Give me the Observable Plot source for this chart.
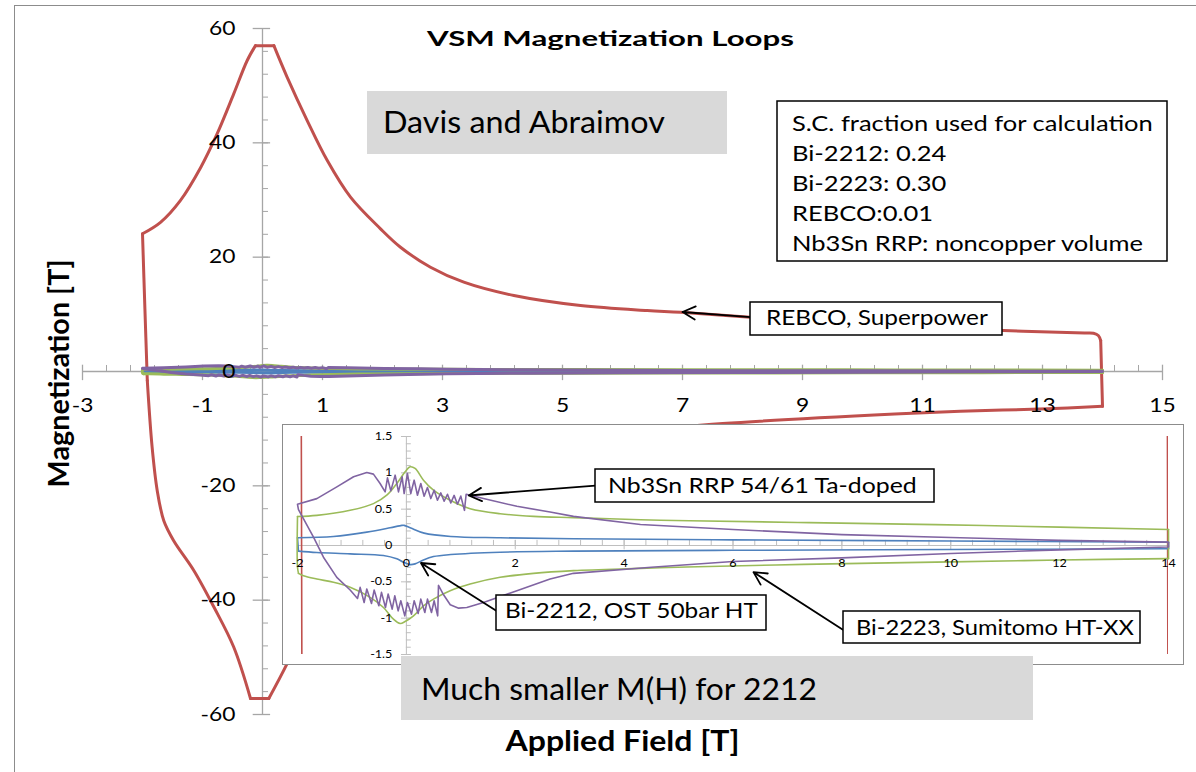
<!DOCTYPE html>
<html><head><meta charset="utf-8">
<script src="https://cdn.jsdelivr.net/npm/d3@7"></script>
<script src="https://cdn.jsdelivr.net/npm/@observablehq/plot@0.6"></script>
<style>
html,body{margin:0;padding:0;background:#fff;}
#wrap{position:relative;width:1196px;height:772px;overflow:hidden;background:#fff;font-family:Lato,sans-serif;}
#main{position:absolute;left:0;top:0;width:1196px;height:772px;}
#chartBorder{position:absolute;left:14px;top:5px;width:1400px;height:1000px;border-left:1.5px solid #8c8c8c;border-top:1.5px solid #8c8c8c;pointer-events:none;}
#inset{position:absolute;left:282px;top:424px;width:902px;height:241px;background:#fff;}
#insetPlot{position:absolute;left:0;top:0;width:902px;height:241px;}
#insetBorder{position:absolute;left:0;top:0;width:902px;height:241px;box-sizing:border-box;border:1.5px solid #8c8c8c;pointer-events:none;}
#overlay{position:absolute;left:0;top:0;pointer-events:none;}
</style></head>
<body>
<div id="wrap">
  <div id="main"></div>
  <div id="chartBorder"></div>
  <div id="inset"><div id="insetPlot"></div><div id="insetBorder"></div></div>
  <svg id="overlay" width="1196" height="772"></svg>
</div>
<script>
// ---------------- DATA (field H [T], magnetization M [T]) ----------------
const rebcoLoop = [
  [-2.0, 24.1], [-1.7, 26.1], [-1.37, 29.9], [-1.03, 35.7], [-0.755, 41.6], [-0.478, 48.6],
  [-0.255, 54.4], [-0.117, 57.0], [0.19, 57.0], [0.41, 51.5], [0.745, 43.9], [1.08, 36.9],
  [1.467, 30.5], [1.967, 24.96], [2.3, 21.74], [2.8, 18.24], [3.355, 15.62], [4.19, 13.29],
  [5.3, 11.54], [6.41, 10.67], [6.97, 10.37], [8.13, 9.5], [10.0, 8.2], [12.35, 7.17],
  [13.7, 6.75], [13.85, 6.7], [13.93, 6.3], [13.97, 5.4], [14.0, -6.1], [13.08, -6.53],
  [11.63, -6.95], [10.63, -7.4], [7.67, -9.1], [6.4, -10.3], [5.3, -11.3], [4.2, -13.0],
  [3.35, -15.3], [2.8, -17.9], [2.3, -21.3], [1.97, -24.4], [1.47, -30.0], [1.08, -36.4],
  [0.745, -43.4], [0.41, -51.1], [0.105, -57.2], [-0.2, -57.2], [-0.48, -48.2], [-0.81, -41.2],
  [-1.145, -34.8], [-1.48, -29.6], [-1.645, -26.1], [-1.755, -20.8], [-1.84, -13.2],
  [-1.92, -1.6], [-1.96, 11.0], [-2.0, 24.1]
];
const bi2223Loop = [
  [-2.0, 0.40], [-1.645, 0.415], [-1.033, 0.484], [-0.605, 0.576], [-0.36, 0.692], [-0.176, 0.853],
  [-0.023, 1.014], [0.069, 1.083], [0.16, 1.06], [0.314, 0.899], [0.498, 0.761], [0.804, 0.622],
  [1.171, 0.507], [1.722, 0.438], [2.335, 0.401], [3.07, 0.383], [4.3, 0.355], [5.2, 0.34],
  [7.4, 0.315], [10.6, 0.275], [14.0, 0.22], [14.0, -0.18], [12.0, -0.2], [10.0, -0.225],
  [7.3, -0.26], [5.15, -0.295], [4.3, -0.315], [3.07, -0.346], [2.335, -0.383], [1.722, -0.438],
  [1.171, -0.53], [0.804, -0.622], [0.498, -0.738], [0.314, -0.83], [0.131, -0.968], [-0.023, -1.046],
  [-0.115, -1.074], [-0.237, -1.014], [-0.421, -0.853], [-0.666, -0.714], [-1.033, -0.576],
  [-1.339, -0.507], [-1.645, -0.461], [-1.89, -0.415], [-1.982, -0.383], [-2.0, -0.3], [-2.0, 0.40]
];
const bi2212Loop = [
  [-2.0, 0.106], [-1.339, 0.124], [-0.727, 0.184], [-0.298, 0.244], [-0.084, 0.277], [-0.041, 0.277],
  [0.081, 0.24], [0.326, 0.17], [0.816, 0.124], [1.722, 0.106], [3.07, 0.092], [6.0, 0.078],
  [10.0, 0.062], [14.0, 0.045], [14.0, -0.045], [10.0, -0.055], [6.0, -0.066], [3.07, -0.078],
  [1.722, -0.092], [0.816, -0.124], [0.498, -0.152], [0.314, -0.198], [0.16, -0.253], [0.069, -0.263],
  [-0.053, -0.23], [-0.176, -0.184], [-0.421, -0.138], [-1.033, -0.115], [-1.645, -0.097],
  [-1.982, -0.078], [-2.0, 0.106]
];
const nb3snLoop = [
  [-2.0, 0.567], [-1.645, 0.645], [-1.277, 0.807], [-0.97, 0.946], [-0.727, 1.005], [-0.605, 0.982],
  [-0.483, 0.853], [-0.39, 0.738],
  [-0.347, 0.931], [-0.286, 0.752], [-0.206, 0.968], [-0.145, 0.738], [-0.078, 0.945], [-0.041, 0.715],
  [0.02, 0.99], [0.081, 0.715], [0.143, 0.899], [0.204, 0.692], [0.265, 0.853], [0.326, 0.678],
  [0.387, 0.798], [0.449, 0.646], [0.51, 0.761], [0.571, 0.623], [0.632, 0.724], [0.694, 0.609],
  [0.755, 0.705], [0.816, 0.585], [0.877, 0.69], [0.938, 0.567], [1.0, 0.68], [1.067, 0.484],
  [1.098, 0.705],
  [1.416, 0.646], [2.03, 0.539], [2.64, 0.461], [3.07, 0.401], [4.3, 0.29], [6.0, 0.22],
  [8.0, 0.15], [10.0, 0.11], [12.0, 0.07], [14.0, 0.046],
  [14.0, -0.02], [12.0, -0.06], [10.0, -0.11], [8.0, -0.17], [6.0, -0.22], [4.5, -0.30],
  [3.07, -0.383], [2.64, -0.461], [2.03, -0.622], [1.416, -0.784], [1.11, -0.853], [0.96, -0.862],
  [0.806, -0.816], [0.683, -0.678], [0.59, -0.549], [0.575, -0.968],
  [0.51, -0.761], [0.461, -0.922], [0.388, -0.738], [0.339, -0.922], [0.265, -0.738], [0.216, -0.936],
  [0.143, -0.761], [0.094, -0.945], [0.02, -0.784], [-0.029, -0.968], [-0.102, -0.761], [-0.151, -0.899],
  [-0.213, -0.692], [-0.261, -0.876], [-0.335, -0.668], [-0.384, -0.853], [-0.457, -0.645], [-0.506, -0.83],
  [-0.592, -0.613], [-0.641, -0.798], [-0.727, -0.599], [-0.776, -0.784], [-0.849, -0.576], [-0.898, -0.73],
  [-1.033, -0.613], [-1.278, -0.438], [-1.523, -0.161], [-1.706, 0.115], [-1.982, 0.493], [-2.0, 0.567]
];
// indices of sharp corners in each loop (curve is split there)
const rebcoCorners = [7, 8, 27, 28, 44, 45, 53];
const bi2223Corners = [20, 21, 44];
const bi2212Corners = [13, 14, 29];
const nb3snCorners = [];

const mainXTicks = [-3, -1, 1, 3, 5, 7, 9, 11, 13, 15];
const mainYTicks = [-60, -40, -20, 0, 20, 40, 60];
const insetXTicks = [-2, 0, 2, 4, 6, 8, 10, 12, 14];
const insetYTicks = [-1.5, -1, -0.5, 0, 0.5, 1, 1.5];
const seriesNames = ["REBCO, Superpower", "Bi-2223, Sumitomo HT-XX", "Nb3Sn RRP 54/61 Ta-doped", "Bi-2212, OST 50bar HT"];
const seriesColors = ["#c0504d", "#9bbb59", "#8064a2", "#4f81bd"];
const infoLines = ["S.C. fraction used for calculation", "Bi-2212: 0.24", "Bi-2223: 0.30", "REBCO:0.01", "Nb3Sn RRP: noncopper volume"];

// ---------------- BUILD ----------------
function segmentRows(pairs, corners) {
  const rows = []; const b = new Set(corners); let seg = 0;
  pairs.forEach(([H, M], i) => {
    rows.push({H, M, seg});
    if (b.has(i)) { seg++; rows.push({H, M, seg}); }
  });
  return rows;
}
const rebcoRows = segmentRows(rebcoLoop, rebcoCorners);
const smallSeries = [
  {rows: segmentRows(bi2212Loop, bi2212Corners), color: seriesColors[3], curve: "catmull-rom"},
  {rows: segmentRows(bi2223Loop, bi2223Corners), color: seriesColors[1], curve: "catmull-rom"},
  {rows: segmentRows(nb3snLoop, nb3snCorners), color: seriesColors[2], curve: "linear"}
];
const axisColor = "#a6a6a6";
const FONT = "Lato, sans-serif";

function stretch(el, sx, sy = 1) {
  const t = el.getAttribute("transform") || "";
  const x = parseFloat(el.getAttribute("x")) || 0;
  el.setAttribute("transform", `${t} translate(${x},0) scale(${sx},${sy}) translate(${-x},0)`);
}

const main = Plot.plot({
  width: 1196, height: 772,
  marginLeft: 82, marginRight: 34, marginTop: 28, marginBottom: 58,
  x: {domain: [-3, 15], axis: null},
  y: {domain: [-60, 60], axis: null},
  style: {fontFamily: FONT, background: "white"},
  marks: [
    Plot.ruleY([0], {x1: -3, x2: 15, stroke: axisColor, strokeWidth: 1.3}),
    Plot.ruleX([0], {y1: -60, y2: 60, stroke: axisColor, strokeWidth: 1.3}),
    Plot.ruleX(d3.range(-3, 15.0001, 0.4), {x: d => d, y1: 0, y2: 1.05, stroke: axisColor}),
    Plot.ruleX(mainXTicks, {x: d => d, y1: -1.6, y2: 1.1, stroke: axisColor, strokeWidth: 1.3}),
    Plot.ruleY(d3.range(-60, 60.0001, 4), {y: d => d, x1: 0, x2: 0.1, stroke: axisColor}),
    Plot.ruleY(mainYTicks, {y: d => d, x1: -0.155, x2: 0.135, stroke: axisColor, strokeWidth: 1.3}),
    Plot.line(rebcoRows, {x: "H", y: "M", z: "seg", stroke: seriesColors[0], strokeWidth: 3, curve: "catmull-rom"}),
    ...smallSeries.map(s => Plot.line(s.rows, {x: "H", y: "M", z: "seg", stroke: s.color, strokeWidth: 3, curve: s.curve})),
    Plot.arrow([{x1: 8.133, y1: 9.5, x2: 7.0, y2: 10.41}], {x1: "x1", y1: "y1", x2: "x2", y2: "y2", stroke: "#000", strokeWidth: 1.8, headLength: 12, headAngle: 55}),
    Plot.text(mainYTicks, {x: 0, y: d => d, text: d => String(d), textAnchor: "end", lineAnchor: "middle", dx: -27, fontSize: 19, fill: "#000"}),
    Plot.text(mainXTicks, {x: d => d, y: 0, text: d => String(d), lineAnchor: "middle", dy: 34, fontSize: 19, fill: "#000"}),
    Plot.text(["VSM Magnetization Loops"], {text: d => d, frameAnchor: "top-left", dx: 528, dy: 17, textAnchor: "middle", lineAnchor: "bottom", fontWeight: "bold", fontSize: 20, fill: "#000"}),
    Plot.text(["Magnetization [T]"], {text: d => d, frameAnchor: "top-left", dx: -22, dy: 345, rotate: -90, textAnchor: "middle", lineAnchor: "middle", fontWeight: "bold", fontSize: 28, fill: "#000"}),
    Plot.text(["Applied Field [T]"], {text: d => d, frameAnchor: "top-left", dx: 540, dy: 722, textAnchor: "middle", lineAnchor: "bottom", fontWeight: "bold", fontSize: 28, fill: "#000"})
  ]
});
document.getElementById("main").appendChild(main);

const inset = Plot.plot({
  width: 902, height: 241,
  marginLeft: 15, marginRight: 16, marginTop: 12, marginBottom: 11,
  x: {domain: [-2, 14], axis: null},
  y: {domain: [-1.5, 1.5], axis: null},
  style: {fontFamily: FONT, background: "white"},
  marks: [
    Plot.ruleY([0], {x1: -2, x2: 14, stroke: "#bfbfbf"}),
    Plot.ruleX([0], {y1: -1.5, y2: 1.5, stroke: "#bfbfbf"}),
    Plot.ruleX(d3.range(-2, 14.0001, 0.4), {x: d => d, y1: 0, y2: 0.07, stroke: "#bfbfbf"}),
    Plot.ruleX(insetXTicks, {x: d => d, y1: -0.06, y2: 0.07, stroke: "#bfbfbf"}),
    Plot.ruleY(d3.range(-1.5, 1.5001, 0.1), {y: d => d, x1: 0, x2: 0.09, stroke: "#bfbfbf"}),
    Plot.ruleY(insetYTicks, {y: d => d, x1: -0.09, x2: 0.09, stroke: "#bfbfbf"}),
    Plot.line(rebcoRows, {x: "H", y: "M", z: "seg", stroke: seriesColors[0], strokeWidth: 1.6, clip: true}),
    ...smallSeries.map(s => Plot.line(s.rows, {x: "H", y: "M", z: "seg", stroke: s.color, strokeWidth: 1.6, curve: s.curve})),
    Plot.arrow([
      {x1: 3.474, y1: 0.825, x2: 1.146, y2: 0.688},
      {x1: 1.673, y1: -0.908, x2: 0.268, y2: -0.241},
      {x1: 8.012, y1: -1.155, x2: 6.376, y2: -0.367}
    ], {x1: "x1", y1: "y1", x2: "x2", y2: "y2", stroke: "#000", strokeWidth: 1.8, headLength: 12, headAngle: 55}),
    Plot.text(insetYTicks, {x: 0, y: d => d, text: d => String(d), textAnchor: "end", lineAnchor: "middle", dx: -14, fontSize: 10.5, fill: "#000"}),
    Plot.text(insetXTicks, {x: d => d, y: 0, text: d => String(d), lineAnchor: "middle", dy: 18, fontSize: 10.5, fill: "#000"})
  ]
});
document.getElementById("insetPlot").appendChild(inset);

// stretch chart texts to match the (horizontally stretched) original
const fits = {"VSM Magnetization Loops": 367, "Magnetization [T]": 228, "Applied Field [T]": 234};
main.querySelectorAll("text").forEach(el => {
  const s = el.textContent;
  if (fits[s]) { const w = el.getComputedTextLength(); if (w) stretch(el, fits[s] / w); }
  else if (/^-?[\d.]+$/.test(s)) stretch(el, 1.2);
});
inset.querySelectorAll("text").forEach(el => {
  if (/^-?[\d.]+$/.test(el.textContent)) stretch(el, 1.2);
});

// ---------------- OVERLAY ANNOTATIONS ----------------
const ov = d3.select("#overlay");
function rect(x, y, w, h, fill, stroke) {
  ov.append("rect").attr("x", x).attr("y", y).attr("width", w).attr("height", h)
    .attr("fill", fill).attr("stroke", stroke || "none").attr("stroke-width", stroke ? 1.5 : 0);
}
function label(str, x, baseline, size, target, fixedScale) {
  const t = ov.append("text").attr("x", 0).attr("y", 0)
    .attr("font-family", FONT).attr("font-size", size).attr("fill", "#000").text(str);
  const w = t.node().getComputedTextLength();
  const sx = fixedScale || (target && w ? target / w : 1);
  t.attr("transform", `translate(${x},${baseline}) scale(${sx},1)`);
  return sx;
}
rect(367, 91, 360, 63, "#d9d9d9");
label("Davis and Abraimov", 383, 133, 31.5, 282);

rect(777, 101, 390, 160, "#fff", "#000");
const scS = label(infoLines[0], 792, 131, 20.5, 361);
infoLines.slice(1).forEach((s, i) => label(s, 792, 161 + 30 * i, 20.5, null, scS));

rect(750, 302, 252, 33, "#fff", "#000");
label(seriesNames[0], 766, 325, 21, 222);

rect(595, 469, 339, 33, "#fff", "#000");
label(seriesNames[2], 608, 493, 22, 309);

rect(496, 595, 270, 35, "#fff", "#000");
label(seriesNames[3], 505, 618, 22, 253);

rect(843, 611, 297, 32, "#fff", "#000");
label(seriesNames[1], 856, 635, 22, 278);

rect(401, 656, 632, 64, "#d9d9d9");
label("Much smaller M(H) for 2212", 421, 700, 30.5, 396);
</script>
</body></html>
